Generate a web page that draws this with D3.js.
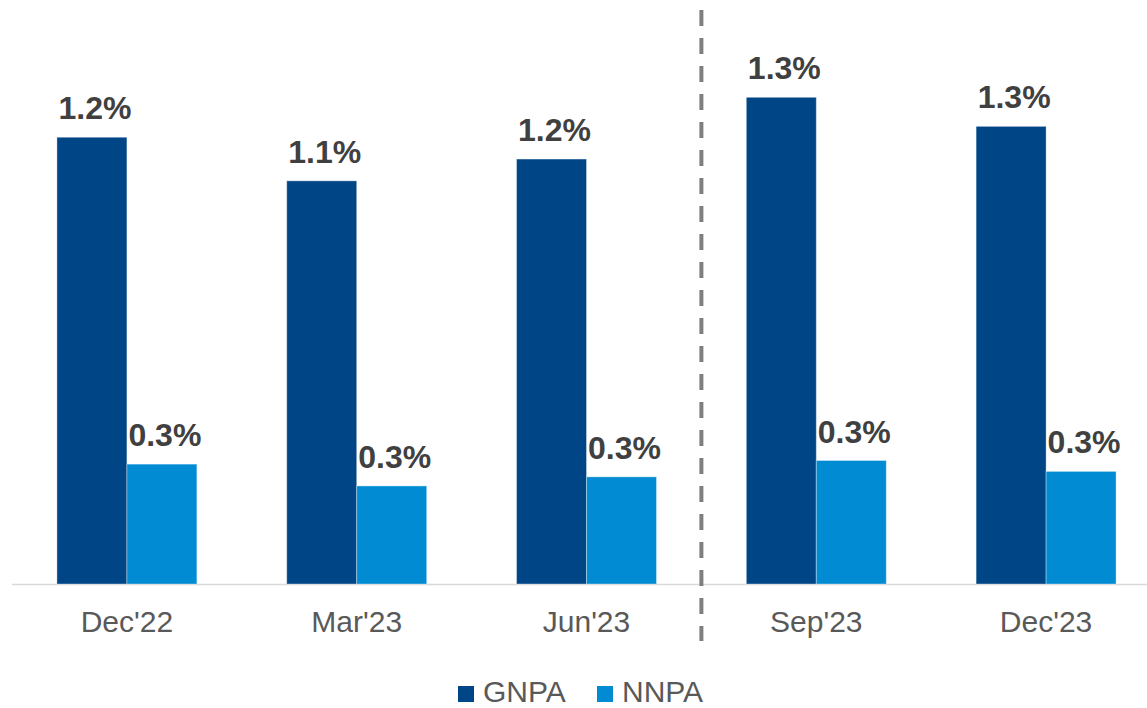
<!DOCTYPE html>
<html>
<head>
<meta charset="utf-8">
<script src="https://cdn.jsdelivr.net/npm/d3@7"></script>
<style>
  body { margin: 0; background: #ffffff; }
  text { font-family: "Liberation Sans", Arial, sans-serif; }
</style>
</head>
<body>
<div id="chart"></div>
<script>
// data
const quarters = ["Dec'22", "Mar'23", "Jun'23", "Sep'23", "Dec'23"];
const seriesNames = ["GNPA", "NNPA"];
const gnpa = [1.23, 1.11, 1.17, 1.34, 1.26];
const nnpa = [0.33, 0.27, 0.295, 0.34, 0.31];
const colors = ["#004687", "#008BD3"];

const width = 1147;
const height = 708;
const baseY = 584;

const svg = d3.select('#chart').append('svg')
    .attr('width', width)
    .attr('height', height);

const rows = quarters.map((q, i) => ({quarter: q, values: [gnpa[i], nnpa[i]]}));

// outer band scale runs slightly past the right edge, like the original
const x = d3.scaleBand()
    .domain(quarters)
    .range([12, 1161])
    .paddingInner(0.391)
    .paddingOuter(0.1955);

const xSeries = d3.scaleBand()
    .domain(seriesNames)
    .range([0, x.bandwidth()])
    .padding(0);

const y = d3.scaleLinear()
    .domain([0, 1.6])
    .range([baseY, baseY - 1.6 * 363.2]);

const fmt = d3.format('.1f');

// baseline
svg.append('line')
    .attr('x1', 12)
    .attr('x2', width)
    .attr('y1', baseY + 0.5)
    .attr('y2', baseY + 0.5)
    .attr('stroke', '#d9d9d9')
    .attr('stroke-width', 1.5);

const groups = svg.selectAll('.grp')
    .data(rows)
    .join('g')
    .attr('class', 'grp')
    .attr('transform', d => `translate(${x(d.quarter)},0)`);

groups.selectAll('rect')
    .data(d => d.values.map((v, k) => ({name: seriesNames[k], value: v, k: k})))
    .join('rect')
    .attr('x', d => xSeries(d.name))
    .attr('y', d => y(d.value))
    .attr('width', xSeries.bandwidth())
    .attr('height', d => baseY - y(d.value))
    .attr('fill', d => colors[d.k])
    .attr('stroke', 'rgba(255,255,255,0.35)')
    .attr('stroke-width', 1);

groups.selectAll('.lbl')
    .data(d => d.values.map((v, k) => ({name: seriesNames[k], value: v})))
    .join('text')
    .attr('class', 'lbl')
    .attr('x', d => xSeries(d.name) + xSeries.bandwidth() / 2 + 3)
    .attr('y', d => y(d.value) - 18)
    .attr('text-anchor', 'middle')
    .attr('fill', '#404040')
    .style('font-size', '32px')
    .style('font-weight', 'bold')
    .text(d => fmt(d.value) + '%');

// category labels
svg.selectAll('.cat')
    .data(quarters)
    .join('text')
    .attr('class', 'cat')
    .attr('x', d => x(d) + x.bandwidth() / 2)
    .attr('y', 632)
    .attr('text-anchor', 'middle')
    .attr('fill', '#595959')
    .style('font-size', '30px')
    .text(d => d);

// dashed divider between Jun'23 and Sep'23
const divX = (x("Jun'23") + x("Sep'23")) / 2 + x.bandwidth() / 2;
svg.append('line')
    .attr('x1', divX)
    .attr('x2', divX)
    .attr('y1', 10)
    .attr('y2', 641)
    .attr('stroke', '#7f7f7f')
    .attr('stroke-width', 4)
    .attr('stroke-dasharray', '16,12');

// legend
const legend = svg.append('g').attr('class', 'legend');
const legendX = [458, 597];
seriesNames.forEach((name, k) => {
    legend.append('rect')
        .attr('x', legendX[k])
        .attr('y', 686)
        .attr('width', 16)
        .attr('height', 16)
        .attr('fill', colors[k]);
    legend.append('text')
        .attr('x', legendX[k] + 25)
        .attr('y', 702)
        .attr('fill', '#595959')
        .style('font-size', '30px')
        .text(name);
});
</script>
</body>
</html>
